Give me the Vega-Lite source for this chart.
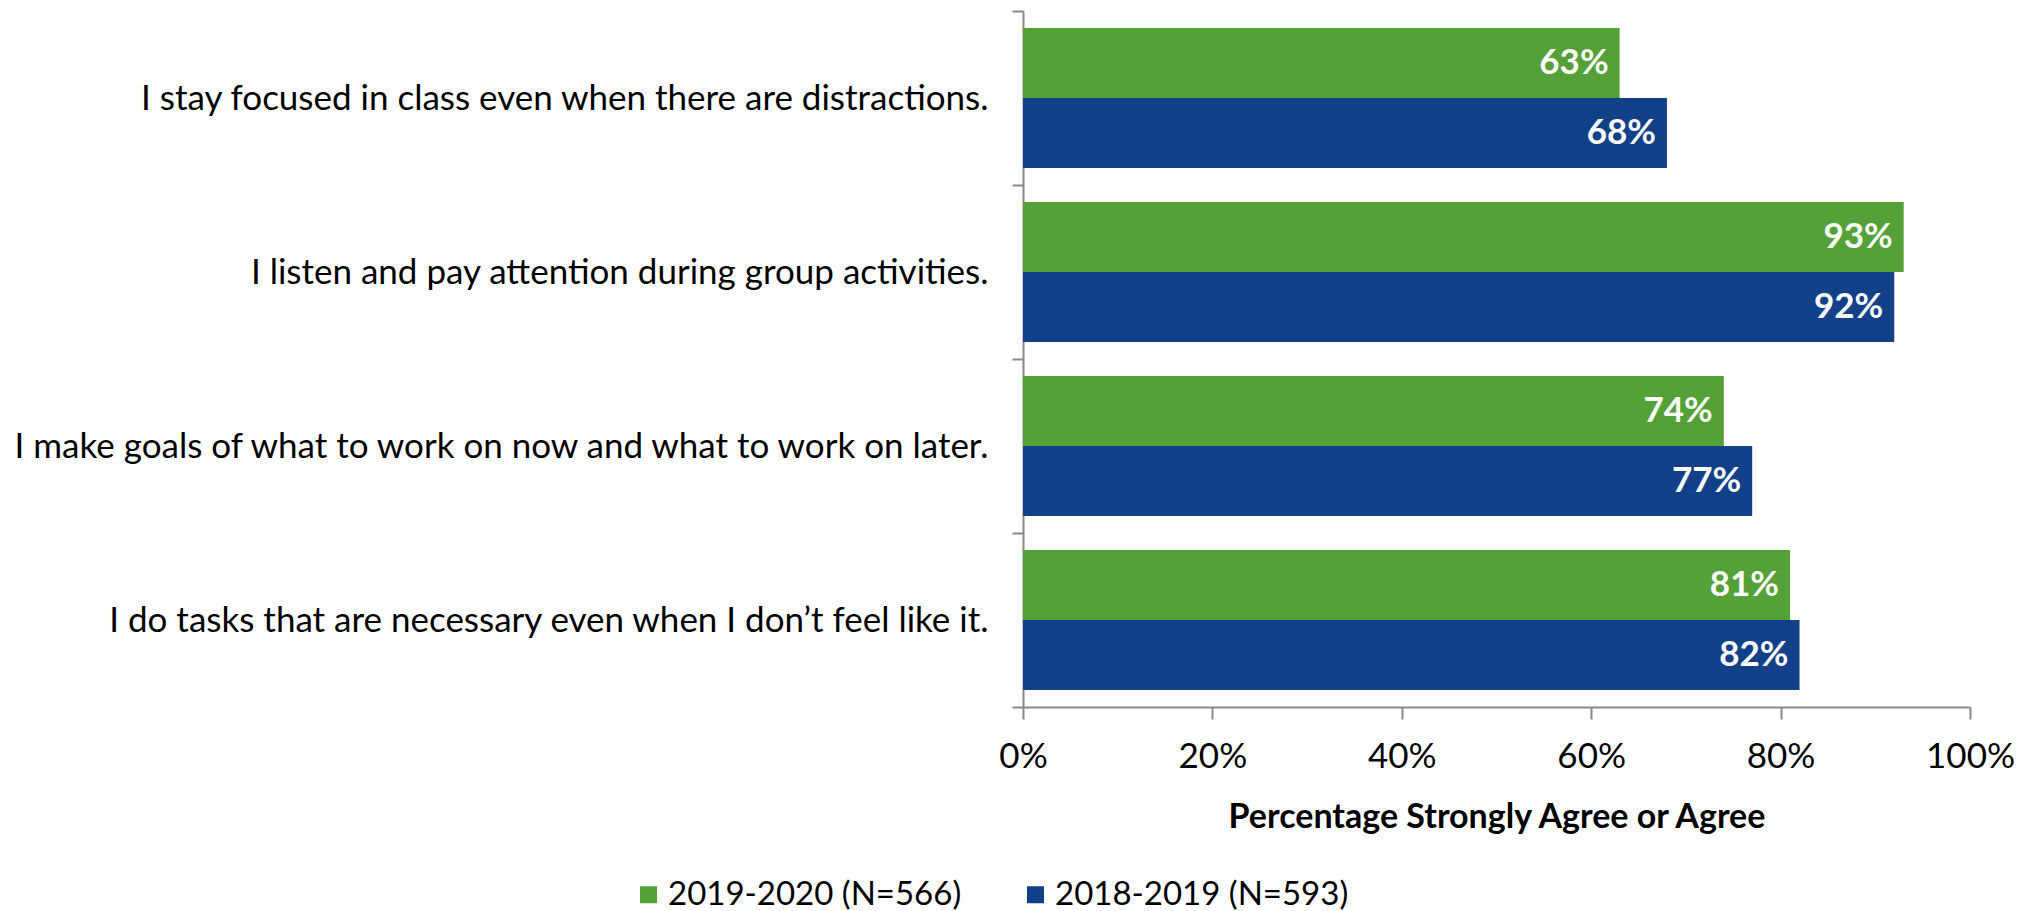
{
  "$schema": "https://vega.github.io/schema/vega-lite/v6.json",
  "width": 947,
  "height": 696,
  "autosize": {"type": "none"},
  "padding": {"left": 1023, "top": 11, "right": 60, "bottom": 204},
  "background": "white",
  "config": {"view": {"stroke": null}, "font": "Lato"},
  "data": {
    "values": [
      {"statement": "I stay focused in class even when there are distractions.", "year": "2019-2020 (N=566)", "pct": 0.63},
      {"statement": "I stay focused in class even when there are distractions.", "year": "2018-2019 (N=593)", "pct": 0.68},
      {"statement": "I listen and pay attention during group activities.", "year": "2019-2020 (N=566)", "pct": 0.93},
      {"statement": "I listen and pay attention during group activities.", "year": "2018-2019 (N=593)", "pct": 0.92},
      {"statement": "I make goals of what to work on now and what to work on later.", "year": "2019-2020 (N=566)", "pct": 0.74},
      {"statement": "I make goals of what to work on now and what to work on later.", "year": "2018-2019 (N=593)", "pct": 0.77},
      {"statement": "I do tasks that are necessary even when I don’t feel like it.", "year": "2019-2020 (N=566)", "pct": 0.81},
      {"statement": "I do tasks that are necessary even when I don’t feel like it.", "year": "2018-2019 (N=593)", "pct": 0.82}
    ]
  },
  "encoding": {
    "y": {
      "field": "statement", "type": "nominal", "sort": null,
      "scale": {"paddingInner": 0, "paddingOuter": 0},
      "axis": {
        "title": null, "labelFontSize": 35, "labelColor": "black", "labelPadding": 24,
        "tickBand": "extent", "tickSize": 11, "tickColor": "#898989", "tickWidth": 2,
        "domainColor": "#898989", "domainWidth": 2, "labelLimit": 1100
      }
    },
    "yOffset": {
      "field": "year", "type": "nominal",
      "sort": ["2019-2020 (N=566)", "2018-2019 (N=593)"],
      "scale": {"paddingInner": 0, "paddingOuter": 0.243}
    },
    "x": {
      "field": "pct", "type": "quantitative",
      "scale": {"domain": [0, 1]},
      "axis": {
        "title": "Percentage Strongly Agree or Agree", "format": ".0%",
        "values": [0, 0.2, 0.4, 0.6, 0.8, 1], "grid": false,
        "tickSize": 12, "tickColor": "#898989", "tickWidth": 2,
        "domainColor": "#898989", "domainWidth": 2,
        "labelFontSize": 35, "labelColor": "black", "labelPadding": 20, "labelFlush": false,
        "titleFontSize": 34, "titleFontWeight": "bold", "titleColor": "black", "titlePadding": 26
      }
    }
  },
  "layer": [
    {
      "mark": {"type": "bar"},
      "encoding": {
        "color": {
          "field": "year", "type": "nominal",
          "scale": {"domain": ["2019-2020 (N=566)", "2018-2019 (N=593)"], "range": ["#54A137", "#134189"]},
          "legend": {
            "title": null, "orient": "none", "direction": "horizontal",
            "legendX": -391, "legendY": 867,
            "symbolType": "square", "symbolSize": 289, "symbolStrokeWidth": 0,
            "labelFontSize": 33, "labelColor": "black", "labelOffset": 3,
            "columnPadding": 57, "labelLimit": 600
          }
        }
      }
    },
    {
      "mark": {"type": "text", "align": "right", "baseline": "middle", "dx": -11, "color": "white", "fontWeight": "bold", "fontSize": 35},
      "encoding": {"text": {"field": "pct", "format": ".0%"}}
    }
  ]
}
